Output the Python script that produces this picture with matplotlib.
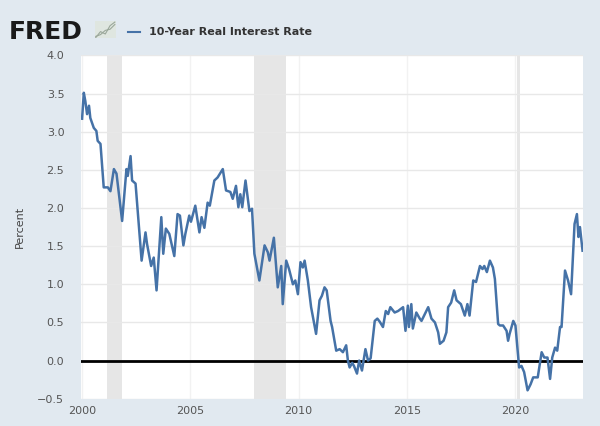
import matplotlib.pyplot as plt
from matplotlib.lines import Line2D

# dates (decimal years) and 10-year real rate
dates = [
    2000.00, 2000.08, 2000.15, 2000.23, 2000.32, 2000.38, 2000.54, 2000.66, 2000.72, 2000.85,
    2001.00, 2001.19, 2001.31, 2001.47, 2001.59, 2001.85, 2002.05, 2002.11, 2002.24, 2002.31,
    2002.47, 2002.75, 2002.93, 2003.00, 2003.19, 2003.31, 2003.44, 2003.66, 2003.75, 2003.87,
    2004.03, 2004.26, 2004.41, 2004.52, 2004.68, 2004.77, 2004.95, 2005.03, 2005.23, 2005.42,
    2005.52, 2005.65, 2005.80, 2005.90, 2006.11, 2006.26, 2006.50, 2006.65, 2006.85, 2006.96,
    2007.11, 2007.22, 2007.31, 2007.40, 2007.55, 2007.73, 2007.85, 2007.96, 2008.19, 2008.43,
    2008.58, 2008.66, 2008.86, 2009.04, 2009.20, 2009.27, 2009.43, 2009.56, 2009.74, 2009.85,
    2009.97, 2010.09, 2010.20, 2010.28, 2010.43, 2010.58, 2010.81, 2010.97, 2011.08, 2011.20,
    2011.30, 2011.48, 2011.55, 2011.74, 2011.90, 2012.05, 2012.20, 2012.28, 2012.36, 2012.48,
    2012.56, 2012.70, 2012.80, 2012.93, 2013.09, 2013.21, 2013.33, 2013.52, 2013.64, 2013.75,
    2013.90, 2014.03, 2014.14, 2014.24, 2014.44, 2014.60, 2014.83, 2014.94, 2015.05, 2015.10,
    2015.21, 2015.28, 2015.44, 2015.60, 2015.68, 2015.99, 2016.14, 2016.30, 2016.45, 2016.53,
    2016.70, 2016.83, 2016.91, 2017.05, 2017.19, 2017.30, 2017.50, 2017.68, 2017.80, 2017.90,
    2018.07, 2018.20, 2018.38, 2018.50, 2018.58, 2018.70, 2018.84, 2018.98, 2019.07, 2019.22,
    2019.30, 2019.45, 2019.61, 2019.68, 2019.75, 2019.92, 2020.02, 2020.19, 2020.30, 2020.42,
    2020.58, 2020.72, 2020.84, 2021.05, 2021.23, 2021.35, 2021.50, 2021.62, 2021.72, 2021.85,
    2021.95, 2022.08, 2022.15, 2022.31, 2022.45, 2022.59, 2022.75, 2022.86, 2022.93, 2023.00,
    2023.12,
]
rate = [
    3.17, 3.51, 3.40, 3.23, 3.34, 3.18, 3.05, 3.01, 2.88, 2.84,
    2.27, 2.27, 2.22, 2.51, 2.45, 1.83, 2.51, 2.42, 2.68, 2.36,
    2.32, 1.31, 1.68, 1.53, 1.24, 1.35, 0.92, 1.88, 1.40, 1.73,
    1.66, 1.37, 1.92, 1.90, 1.51, 1.66, 1.90, 1.82, 2.03, 1.68,
    1.88, 1.74, 2.07, 2.03, 2.36, 2.40, 2.51, 2.23, 2.21, 2.12,
    2.29, 2.01, 2.18, 2.01, 2.36, 1.96, 1.99, 1.40, 1.05, 1.51,
    1.42, 1.31, 1.61, 0.96, 1.24, 0.74, 1.31, 1.20, 1.00, 1.05,
    0.87, 1.29, 1.22, 1.31, 1.05, 0.70, 0.35, 0.79, 0.85, 0.96,
    0.92, 0.52, 0.44, 0.13, 0.15, 0.11, 0.20, 0.00, -0.09, -0.03,
    -0.07, -0.17, 0.00, -0.13, 0.15, 0.00, 0.03, 0.52, 0.55, 0.51,
    0.44, 0.65, 0.61, 0.70, 0.63, 0.65, 0.70, 0.39, 0.72, 0.44,
    0.74, 0.42, 0.63, 0.55, 0.52, 0.70, 0.55, 0.50, 0.37, 0.22,
    0.26, 0.37, 0.70, 0.76, 0.92, 0.79, 0.74, 0.59, 0.74, 0.59,
    1.05, 1.03, 1.24, 1.20, 1.24, 1.16, 1.31, 1.22, 1.07, 0.48,
    0.46, 0.46, 0.39, 0.26, 0.35, 0.52, 0.46, -0.09, -0.07, -0.15,
    -0.39, -0.31, -0.22, -0.22, 0.11, 0.04, 0.04, -0.24, 0.04, 0.17,
    0.13, 0.44, 0.44, 1.18, 1.05, 0.87, 1.79, 1.92, 1.62, 1.75,
    1.44,
]

# recessions (start, end)
rec_start = [2001.17, 2007.92, 2020.08]
rec_end = [2001.83, 2009.42, 2020.25]

bg = '#e1e9f0'
line_col = '#4572a7'

fig = plt.figure(figsize=(6, 4.26), dpi=100, facecolor=bg)
ax = fig.add_axes([0.135, 0.064, 0.837, 0.806])
ax.set_facecolor('white')

for s, e in zip(rec_start, rec_end):
    ax.axvspan(s, e, color='#e6e6e6', lw=0, zorder=0)

ax.axhline(0, color='black', lw=2, zorder=2)
ax.plot(dates, rate, color=line_col, lw=1.8, zorder=3)

ax.set_xlim(1999.95, 2023.15)
ax.set_ylim(-0.5, 4.0)
ax.set_yticks([-0.5, 0, 0.5, 1.0, 1.5, 2.0, 2.5, 3.0, 3.5, 4.0])
ax.set_xticks([2000, 2005, 2010, 2015, 2020])
ax.grid(True, axis='y', color='#e8e8e8', lw=1, zorder=1)
ax.grid(True, axis='x', color='#f2f2f2', lw=1, zorder=1)
for sp in ax.spines.values():
    sp.set_visible(False)
ax.tick_params(length=0, labelsize=8, colors='#555555', pad=12)
ax.tick_params(axis='x', pad=5)
ax.set_ylabel('Percent', fontsize=8, color='#444444', labelpad=9)

# header
fig.text(0.015, 0.925, 'FRED', fontsize=18, fontweight='bold', color='#1a1a1a',
         va='center', ha='left')
icon = fig.add_axes([0.158, 0.91, 0.035, 0.04])
icon.set_facecolor('#dfe6e0')
icon.plot([0, 1, 2, 3, 4], [0, 1, 0.6, 2, 2.6], color='#9aa79a', lw=0.8)
icon.plot([0, 1, 2, 3, 4], [0.2, 0.5, 1.2, 1.4, 2.2], color='#9aa79a', lw=0.8)
icon.set_xticks([])
icon.set_yticks([])
for sp in icon.spines.values():
    sp.set_visible(False)
fig.add_artist(Line2D([0.213, 0.234], [0.925, 0.925], color=line_col, lw=1.5))
fig.text(0.248, 0.925, '10-Year Real Interest Rate', fontsize=8, fontweight='bold',
         color='#333333', va='center', ha='left')

fig.savefig('out.png', dpi=100, facecolor=bg)
